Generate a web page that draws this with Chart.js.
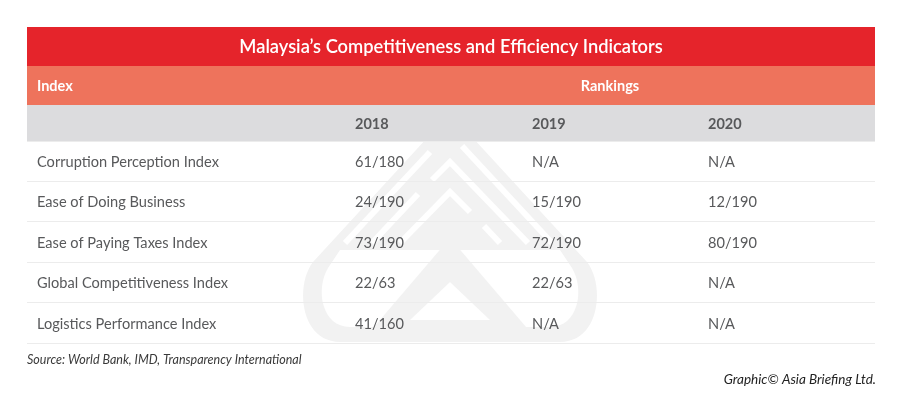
<!DOCTYPE html>
<html>
<head>
<meta charset="utf-8">
<script src="https://cdn.jsdelivr.net/npm/chart.js@4"></script>
<style>
  html, body { margin: 0; padding: 0; background: #fff; }
  #wrap { width: 900px; height: 406px; position: relative; }
</style>
</head>
<body>
<div id="wrap"><canvas id="table"></canvas></div>
<script>
const title = 'Malaysia\u2019s Competitiveness and Efficiency Indicators';
const indicators = [
  'Corruption Perception Index',
  'Ease of Doing Business',
  'Ease of Paying Taxes Index',
  'Global Competitiveness Index',
  'Logistics Performance Index'
];
const years = ['2018', '2019', '2020'];
const rank2018 = ['61/180', '24/190', '73/190', '22/63', '41/160'];
const rank2019 = ['N/A', '15/190', '72/190', '22/63', 'N/A'];
const rank2020 = ['N/A', '12/190', '80/190', 'N/A', 'N/A'];

const source = 'Source: World Bank, IMD, Transparency International';
const credit = 'Graphic\u00A9 Asia Briefing Ltd.';

// column start on the x scale (0..848 = table width)
const colX = [10, 328, 505, 681];
const FONT = 'Lato, "Noto Sans", sans-serif';
const TEXT = '#58595b';

const columns = [indicators, rank2018, rank2019, rank2020];
const datasets = columns.map((texts, c) => ({
  label: c === 0 ? 'Index' : years[c - 1],
  data: indicators.map((name) => ({ x: colX[c], y: name })),
  texts: texts,
  pointRadius: 0,
  pointHoverRadius: 0,
  showLine: false
}));

// faint logo behind the rows
function drawWatermark(chart) {
  const { ctx, chartArea } = chart;
  const x = chart.scales.x;
  // page-like coords relative to the table origin (27, 141)
  const X = (v) => x.getPixelForValue(v - 27);
  const Y = (v) => chartArea.top + (v - 141);
  const poly = (pts) => {
    ctx.beginPath();
    pts.forEach((p, i) => (i ? ctx.lineTo(X(p[0]), Y(p[1])) : ctx.moveTo(X(p[0]), Y(p[1]))));
  };
  ctx.save();
  ctx.beginPath();
  ctx.rect(chartArea.left, chartArea.top, chartArea.right - chartArea.left, chartArea.bottom - chartArea.top);
  ctx.clip();
  const grey = '#f2f2f2';

  // outer drop
  ctx.fillStyle = grey;
  ctx.beginPath();
  ctx.moveTo(X(450), Y(113));
  ctx.lineTo(X(313), Y(262));
  ctx.bezierCurveTo(X(295), Y(285), X(300), Y(342), X(340), Y(342));
  ctx.lineTo(X(560), Y(342));
  ctx.bezierCurveTo(X(600), Y(342), X(605), Y(285), X(587), Y(262));
  ctx.closePath();
  ctx.fill();

  // hollow lower interior
  ctx.fillStyle = '#ffffff';
  ctx.beginPath();
  ctx.moveTo(X(340), Y(250));
  ctx.lineTo(X(560), Y(250));
  ctx.lineTo(X(572), Y(268));
  ctx.bezierCurveTo(X(585), Y(290), X(578), Y(327), X(550), Y(327));
  ctx.lineTo(X(350), Y(327));
  ctx.bezierCurveTo(X(322), Y(327), X(315), Y(290), X(328), Y(268));
  ctx.closePath();
  ctx.fill();

  // inner triangle band
  ctx.fillStyle = grey;
  poly([[450, 238], [368, 334], [532, 334]]);
  ctx.closePath();
  ctx.fill();
  ctx.fillStyle = '#ffffff';
  poly([[450, 282], [410, 320], [490, 320]]);
  ctx.closePath();
  ctx.fill();

  // maze cuts in the upper part
  ctx.strokeStyle = '#ffffff';
  ctx.lineWidth = 6;
  ctx.lineCap = 'butt';
  ctx.beginPath();
  ctx.moveTo(X(345), Y(243)); ctx.lineTo(X(430), Y(152));
  ctx.moveTo(X(462), Y(146)); ctx.lineTo(X(552), Y(243));
  ctx.moveTo(X(372), Y(243)); ctx.lineTo(X(418), Y(194));
  ctx.moveTo(X(432), Y(180)); ctx.lineTo(X(450), Y(162)); ctx.lineTo(X(528), Y(243));
  ctx.moveTo(X(400), Y(243)); ctx.lineTo(X(450), Y(192)); ctx.lineTo(X(470), Y(212));
  ctx.moveTo(X(484), Y(226)); ctx.lineTo(X(500), Y(243));
  ctx.stroke();
  ctx.restore();
}

const cellText = {
  id: 'cellText',
  beforeDraw(chart) {
    const { ctx, chartArea } = chart;
    const x = chart.scales.x;
    const left = chartArea.left, w = chartArea.right - chartArea.left;
    const top = chartArea.top;
    drawWatermark(chart);
    ctx.save();
    // header bands
    ctx.fillStyle = '#e5242b';
    ctx.fillRect(left, top - 114, w, 39);
    ctx.fillStyle = '#ee735c';
    ctx.fillRect(left, top - 75, w, 39);
    ctx.fillStyle = '#dcdcde';
    ctx.fillRect(left, top - 36, w, 36);

    ctx.textBaseline = 'middle';
    ctx.fillStyle = '#ffffff';
    ctx.font = '600 18.3px ' + FONT;
    ctx.textAlign = 'center';
    ctx.fillText(title, (chartArea.left + chartArea.right) / 2, top - 94);

    ctx.font = 'bold 14.5px ' + FONT;
    ctx.textAlign = 'left';
    ctx.fillText('Index', x.getPixelForValue(colX[0]), top - 55);
    ctx.textAlign = 'center';
    ctx.fillText('Rankings', x.getPixelForValue(583), top - 55);

    ctx.fillStyle = TEXT;
    ctx.textAlign = 'left';
    years.forEach((yr, i) => {
      ctx.fillText(yr, x.getPixelForValue(colX[i + 1]), top - 17);
    });

    // footer
    ctx.font = 'italic 12.5px ' + FONT;
    ctx.fillStyle = '#3a3a3a';
    ctx.textAlign = 'left';
    ctx.fillText(source, left, chartArea.bottom + 17);
    ctx.font = 'italic 13.5px ' + FONT;
    ctx.fillStyle = '#222222';
    ctx.textAlign = 'right';
    ctx.fillText(credit, chartArea.right + 1, chartArea.bottom + 37);
    ctx.restore();
  },
  afterDatasetsDraw(chart) {
    const { ctx } = chart;
    ctx.save();
    ctx.font = '14.6px ' + FONT;
    ctx.fillStyle = TEXT;
    ctx.textAlign = 'left';
    ctx.textBaseline = 'middle';
    chart.data.datasets.forEach((ds, d) => {
      chart.getDatasetMeta(d).data.forEach((pt, i) => {
        ctx.fillText(ds.texts[i], pt.x, pt.y + 1);
      });
    });
    ctx.restore();
  }
};

new Chart(document.getElementById('table'), {
  type: 'scatter',
  data: { datasets: datasets },
  options: {
    responsive: true,
    maintainAspectRatio: false,
    animation: false,
    events: [],
    layout: { padding: { left: 27, right: 25, top: 141, bottom: 63 } },
    plugins: { legend: { display: false }, tooltip: { enabled: false } },
    scales: {
      x: { type: 'linear', min: 0, max: 848, display: false },
      y: {
        type: 'category',
        labels: indicators,
        offset: true,
        border: { display: false },
        ticks: { display: false },
        grid: { offset: true, drawTicks: false, color: '#ececec', lineWidth: 1 }
      }
    }
  },
  plugins: [cellText]
});
</script>
</body>
</html>
